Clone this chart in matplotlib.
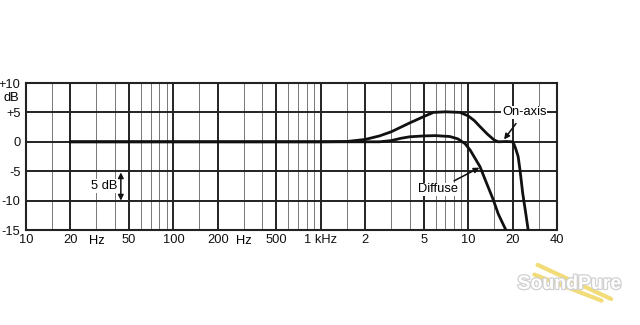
import matplotlib.pyplot as plt
import matplotlib.patheffects as pe
from matplotlib.lines import Line2D

plt.rcParams['font.family'] = ['Liberation Sans', 'DejaVu Sans']

# On-axis response (Hz, dB)
onaxis_f = [20, 100, 1000, 1500, 2000, 2500, 3000, 3500, 4000, 5000, 5800, 7000,
            8800, 10000, 11000, 12000, 13500, 15000, 16000, 18000, 20000, 20500,
            21000, 21800, 22500, 23400, 24500, 25500]
onaxis_db = [0, 0, 0, 0.05, 0.4, 1.0, 1.7, 2.5, 3.2, 4.3, 5.0, 5.1,
             5.0, 4.4, 3.6, 2.6, 1.3, 0.3, 0.0, 0.05, 0.0, -0.5,
             -1.2, -2.5, -5.0, -8.7, -12.0, -15]

# Diffuse-field response (Hz, dB)
diffuse_f = [20, 1000, 2500, 3000, 3500, 4000, 5000, 6000, 7500, 8500, 9500,
             10300, 12000, 13300, 14700, 16000, 18000]
diffuse_db = [0, 0, 0, 0.2, 0.6, 0.85, 1.0, 1.05, 0.9, 0.5, -0.3,
              -1.4, -4.2, -7.0, -9.7, -12.3, -15]

major_x = [10, 20, 50, 100, 200, 500, 1000, 2000, 5000, 10000, 20000, 40000]
minor_x = [15, 30, 40, 60, 70, 80, 90, 150, 300, 400, 600, 700, 800, 900,
           1500, 3000, 4000, 6000, 7000, 8000, 9000, 15000, 30000]
x_labels = ['10', '20', '50', '100', '200', '500', '1 kHz', '2', '5', '10', '20', '40']
y_ticks = [10, 5, 0, -5, -10, -15]
y_labels = ['+10', '+5', '0', '-5', '-10', '-15']

fs = 9.3

fig = plt.figure(figsize=(6.4, 3.25), dpi=100)
ax = fig.add_axes([0.0406, 0.2923, 0.8297, 0.4523])
ax.set_xscale('log')
ax.set_xlim(10, 40000)
ax.set_ylim(-15, 10)

for f in minor_x:
    ax.axvline(f, color='#777777', lw=0.7, zorder=1)
for f in major_x:
    ax.axvline(f, color='#222222', lw=1.4, zorder=2)
for d in y_ticks:
    ax.axhline(d, color='#222222', lw=1.4, zorder=2)

ax.plot(onaxis_f, onaxis_db, color='#111111', lw=2.0, zorder=4)
ax.plot(diffuse_f, diffuse_db, color='#111111', lw=2.0, zorder=4)

ax.set_xticks(major_x)
ax.set_xticklabels(x_labels)
ax.minorticks_off()
ax.set_yticks(y_ticks)
ax.set_yticklabels(y_labels)
ax.tick_params(length=0, labelsize=fs, pad=3, colors='#111111')
ax.tick_params(axis='y', pad=4)
for s in ax.spines.values():
    s.set_linewidth(1.5)
    s.set_color('#222222')

# extra axis text
ax.text(30, -15.9, 'Hz', ha='center', va='top', fontsize=fs)
ax.text(300, -15.9, 'Hz', ha='center', va='top', fontsize=fs)
ax.text(-0.012, 7.5, 'dB', transform=ax.get_yaxis_transform(), ha='right',
        va='center', fontsize=fs)

box = dict(facecolor='white', edgecolor='none', pad=0.5)
ax.text(34, -7.5, '5 dB', ha='center', va='center', fontsize=fs, bbox=box, zorder=5)
ax.annotate('', xy=(44, -5.2), xytext=(44, -10), zorder=5,
            arrowprops=dict(arrowstyle='<|-|>', color='#111111', lw=1.1,
                            mutation_scale=8, shrinkA=0, shrinkB=0))

ax.annotate('On-axis', xy=(17500, 0.4), xytext=(24000, 5), ha='center', va='center',
            fontsize=fs, bbox=box, zorder=5,
            arrowprops=dict(arrowstyle='-|>', color='#111111', lw=1.1,
                            mutation_scale=8, shrinkA=4, shrinkB=0))
ax.annotate('Diffuse', xy=(11900, -4.4), xytext=(6200, -8.1), ha='center', va='center',
            fontsize=fs, bbox=box, zorder=5,
            arrowprops=dict(arrowstyle='-|>', color='#111111', lw=1.1,
                            mutation_scale=8, shrinkA=3, shrinkB=0))

# watermark
fig.add_artist(Line2D([0.84, 0.955], [0.185, 0.08], color='#f2dc78', lw=3,
                      solid_capstyle='round'))
fig.add_artist(Line2D([0.835, 0.94], [0.155, 0.075], color='#f2dc78', lw=3,
                      solid_capstyle='round'))
fig.text(0.89, 0.125, 'SoundPure', ha='center', va='center', fontsize=14,
         fontweight='bold', color='white',
         path_effects=[pe.withStroke(linewidth=1.8, foreground='#d0d0d0')])

fig.savefig('out.png', dpi=100)
